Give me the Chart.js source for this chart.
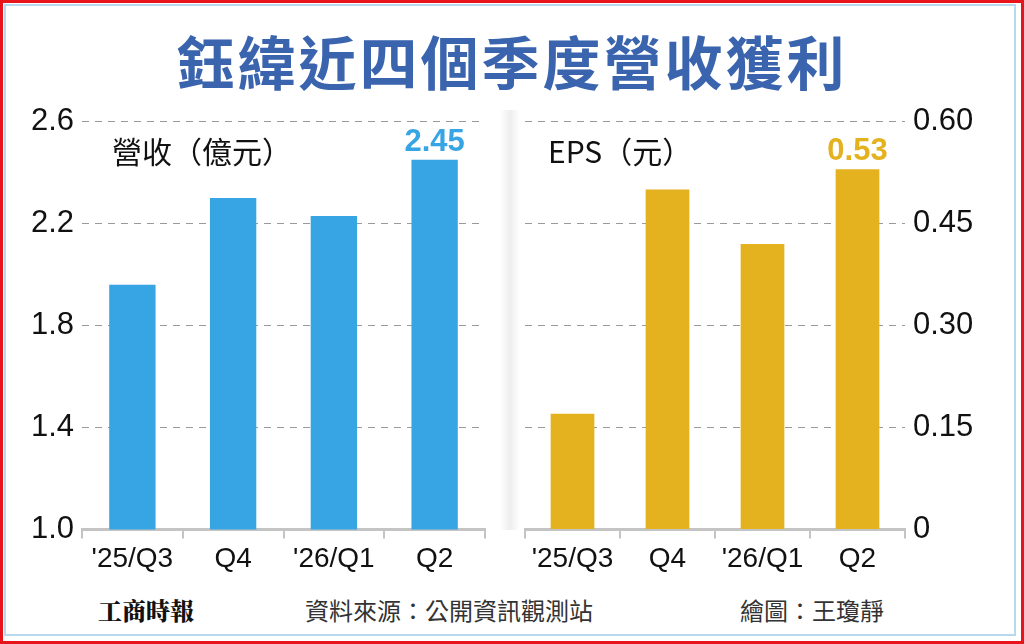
<!DOCTYPE html>
<html>
<head>
<meta charset="utf-8">
<script src="https://cdn.jsdelivr.net/npm/chart.js@4"></script>
<style>
  body { margin: 0; width: 1024px; height: 644px; overflow: hidden; background: #fff; font-family: "Noto Sans CJK TC", sans-serif; }
  #frame { position: absolute; left: 0; top: 0; width: 1018px; height: 638px; border: 3px solid #e8141b; }
  #inner { position: absolute; left: 4px; top: 4px; width: 1008px; height: 628px; border: 2px solid #b8d8f0; }
  #title { position: absolute; top: 18px; left: 0; width: 1024px; text-align: center; font-size: 58px; font-weight: 700; color: #3a64ae; letter-spacing: 3px; }
  .lbl { position: absolute; font-size: 30px; color: #111; }
  #shade { position: absolute; left: 500px; top: 110px; width: 20px; height: 420px; background: linear-gradient(to right, #fff, #eee, #fff); }
  .foot { position: absolute; top: 592px; font-size: 24px; color: #333; }
  canvas { position: absolute; }
</style>
</head>
<body>
<div id="frame"></div>
<div id="inner"></div>
<div id="title">鈺緯近四個季度營收獲利</div>
<div id="shade"></div>
<div id="wrapL" style="position:absolute;left:20px;top:95px;width:470px;height:485px;"><canvas id="revChart"></canvas></div>
<div id="wrapR" style="position:absolute;left:515px;top:95px;width:485px;height:485px;"><canvas id="epsChart"></canvas></div>
<div class="lbl" style="left:112px;top:128px;">營收（億元）</div>
<div class="lbl" style="left:548px;top:128px;">EPS（元）</div>
<div class="foot" style="left:98px;font-family:'Noto Serif CJK TC','Noto Sans CJK TC';font-weight:900;color:#111;">工商時報</div>
<div class="foot" style="left:305px;">資料來源：公開資訊觀測站</div>
<div class="foot" style="left:740px;">繪圖：王瓊靜</div>
<script>
let quarters = ["'25/Q3", 'Q4', "'26/Q1", 'Q2'];
let revenue = [1.96, 2.30, 2.23, 2.45];
let eps = [0.17, 0.50, 0.42, 0.53];
let revTicks = [1.0, 1.4, 1.8, 2.2, 2.6];
let epsTicks = [0, 0.15, 0.30, 0.45, 0.60];

let tickFont = { family: "'Liberation Sans', sans-serif", size: 28 };

// label on the last bar only
let lastLabel = {
  id: 'lastLabel',
  afterDatasetsDraw(chart, args, opts) {
    let meta = chart.getDatasetMeta(0);
    let bar = meta.data[meta.data.length - 1];
    let ctx = chart.ctx;
    ctx.save();
    ctx.fillStyle = opts.color;
    ctx.font = "bold 31px 'Liberation Sans', sans-serif";
    ctx.textAlign = 'center';
    ctx.textBaseline = 'bottom';
    ctx.fillText(opts.text, bar.x, bar.y - 2);
    ctx.restore();
  }
};

function makeChart(id, values, color, ticks, min, max, pos, digits, label) {
  return new Chart(document.getElementById(id), {
    type: 'bar',
    data: { labels: quarters, datasets: [{ data: values, backgroundColor: color, barPercentage: 0.46, categoryPercentage: 1 }] },
    plugins: [lastLabel],
    options: {
      responsive: true,
      maintainAspectRatio: false,
      animation: false,
      layout: { padding: pos === 'left' ? { top: 25, right: 5 } : { top: 25, left: 10 } },
      plugins: { legend: { display: false }, tooltip: { enabled: false }, lastLabel: { color: color, text: label } },
      scales: {
        x: {
          grid: { drawOnChartArea: false, drawTicks: true, tickLength: 9, color: '#c4c4c4', lineWidth: 2 },
          border: { color: '#c4c4c4', width: 3 },
          ticks: { color: '#111', font: tickFont, padding: 4, maxRotation: 0, minRotation: 0, autoSkip: false }
        },
        y: {
          position: pos,
          min: min, max: max,
          afterBuildTicks: (axis) => { axis.ticks = ticks.map(v => ({ value: v })); },
          afterFit: (axis) => { axis.width = pos === 'left' ? 62 : 95; },
          grid: { color: '#9a9a9a', lineWidth: 1, drawTicks: false },
          border: { display: false, dash: [7, 6] },
          ticks: {
            color: '#111', font: { family: "'Liberation Sans', sans-serif", size: 31 }, padding: 8,
            callback: (v) => v === 0 ? '0' : v.toFixed(digits)
          }
        }
      }
    }
  });
}

makeChart('revChart', revenue, '#37a4e4', revTicks, 1.0, 2.6, 'left', 1, '2.45');
makeChart('epsChart', eps, '#e4b21f', epsTicks, 0, 0.6, 'right', 2, '0.53');
</script>
</body>
</html>
